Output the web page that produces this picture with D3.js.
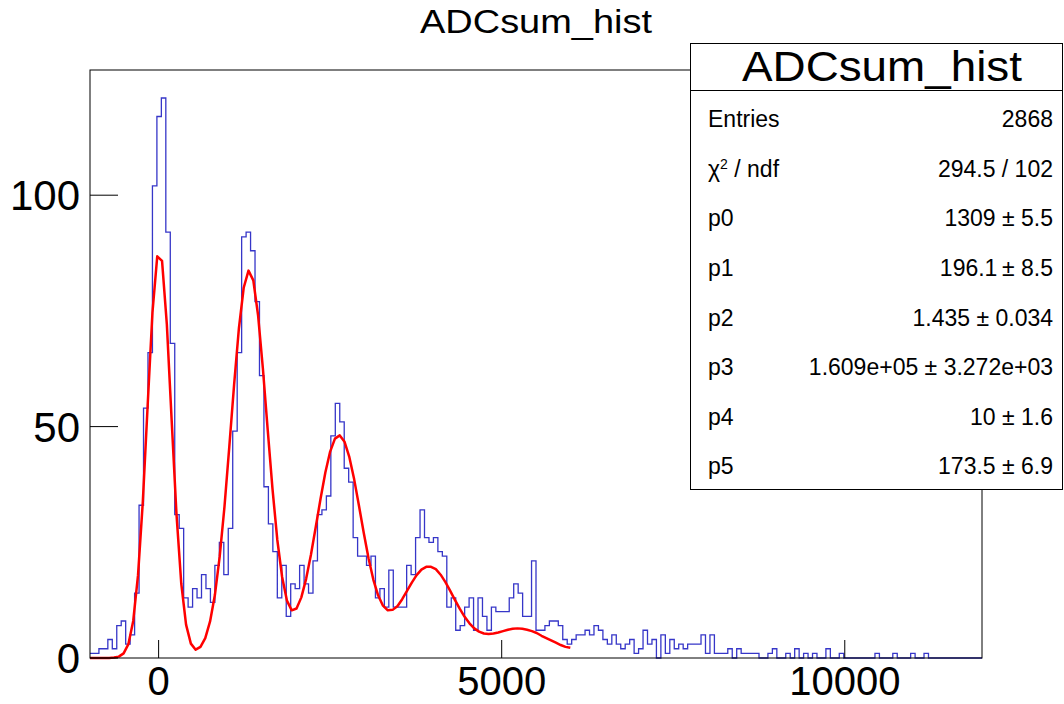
<!DOCTYPE html>
<html><head><meta charset="utf-8">
<script src="https://cdn.jsdelivr.net/npm/d3@7"></script>
<style>body{margin:0;background:#fff;} svg{display:block;font-family:"Liberation Sans",Arial,Helvetica,sans-serif;}</style>
</head><body><svg id="c" width="1064" height="704"></svg>
<script>
// histogram: 200 bins from -1000 to 12000
const binLow = -1000, binWidth = 65;
const counts = [
 1,1,2,2,4,2,7,8,3,5, 14,33,54,66,102,117,121,92,68,31,
 28,13,11,15,13,18,15,12,20,25, 18,28,49,66,91,92,88,77,61,37,
 29,23,13,20,9,16,15,20,16,14, 21,31,32,35,48,55,51,41,38,26,
 22,22,20,22,13,15,11,19,11,11, 11,20,18,26,32,26,25,26,23,22,
 11,13,6,7,11,13,6,13,9,6, 11,10,10,10,13,16,14,9,9,21,
 6,6,7,8,8,7,4,3,4,5, 5,6,5,7,6,4,3,5,3,2,
 3,4,1,2,6,3,4,0,5,1, 4,2,3,2,3,3,3,5,1,5,
 1,1,1,2,0,2,1,1,1,1, 0,0,1,2,0,0,1,0,2,0,
 1,0,1,0,0,2,0,0,1,0, 0,0,0,0,0,0,1,0,0,0,
 1,0,0,0,1,0,0,1,0,0, 0,0,0,0,0,0,0,0,0,0];
// fitted curve samples, every 70 from -1000 to 6000
const fitStart = -1000, fitStep = 70;
const fitValues = [
 0.0,0.0,0.0,0.0,0.0,0.1,0.3,1.0,3.0,8.0,17.9,33.8,54.5,
 74.6,86.8,85.8,72.1,51.4,31.2,16.1,7.2,3.1,1.8,2.4,4.3,7.9,
 13.6,21.9,32.7,45.6,59.0,71.2,80.0,83.7,81.6,74.0,62.5,49.3,36.5,
 25.5,17.5,12.4,10.3,10.7,13.1,17.1,22.3,28.3,34.4,40.1,44.6,47.4,
 48.1,46.7,43.4,38.6,32.9,27.0,21.5,16.9,13.5,11.3,10.3,10.4,11.2,
 12.7,14.5,16.3,17.9,19.1,19.7,19.7,19.2,18.0,16.4,14.5,12.5,10.6,
 8.9,7.5,6.4,5.7,5.3,5.2,5.3,5.5,5.8,6.1,6.3,6.4,6.3,
 6.1,5.8,5.4,4.8,4.3,3.8,3.3,2.8,2.4,2.2];
const xTicks = [0, 5000, 10000];
const yTicks = [0, 50, 100];
const title = "ADCsum_hist";
const statLabels = ["Entries", "chi", "p0", "p1", "p2", "p3", "p4", "p5"];
const statValues = ["2868", "294.5 / 102", "1309 \u00b1 5.5", "196.1\u2009\u00b1 8.5", "1.435 \u00b1 0.034", "1.609e+05 \u00b1 3.272e+03", "10 \u00b1 1.6", "173.5 \u00b1 6.9"];

const svg = d3.select("#c");
const L = 90, R = 982, T = 70, B = 658;
const x = d3.scaleLinear().domain([-1000, 12000]).range([L, R]);
const y = d3.scaleLinear().domain([0, 127.05]).range([B, T]);

// histogram outline
const pts = counts.map((c, i) => [binLow + i * binWidth, c]);
pts.push([binLow + counts.length * binWidth, counts[counts.length - 1]]);
svg.append("path").attr("d", d3.line().x(d => x(d[0])).y(d => y(d[1])).curve(d3.curveStepAfter)(pts))
  .attr("fill", "none").attr("stroke", "#3636c8").attr("stroke-width", 1.3);

// fit curve
svg.append("path").attr("d", d3.line().x((d, i) => x(fitStart + fitStep * i)).y(d => y(d))(fitValues))
  .attr("fill", "none").attr("stroke", "#ff0000").attr("stroke-width", 2.5).attr("stroke-linejoin", "round");

// frame
svg.append("rect").attr("x", L).attr("y", T).attr("width", R - L).attr("height", B - T)
  .attr("fill", "none").attr("stroke", "#000").attr("stroke-width", 1);
// axes ticks and labels
yTicks.forEach(t => {
  svg.append("line").attr("x1", L).attr("x2", L + 28).attr("y1", y(t)).attr("y2", y(t)).attr("stroke", "#000");
  svg.append("text").attr("x", 80).attr("y", y(t)).attr("dy", "0.36em").attr("text-anchor", "end").attr("font-size", 42).text(t);
});
xTicks.forEach(t => {
  svg.append("line").attr("x1", x(t)).attr("x2", x(t)).attr("y1", B).attr("y2", B - 18).attr("stroke", "#000");
  svg.append("text").attr("x", x(t)).attr("y", 681).attr("dy", "0.36em").attr("text-anchor", "middle").attr("font-size", 40).text(t);
});
// title
svg.append("text").attr("x", 536).attr("y", 21).attr("dy", "0.36em").attr("text-anchor", "middle")
  .attr("font-size", 33).attr("textLength", 232).attr("lengthAdjust", "spacingAndGlyphs").text(title);

// stats box
svg.append("rect").attr("x", 690.5).attr("y", 43.5).attr("width", 372).attr("height", 446).attr("fill", "#fff").attr("stroke", "#000");
svg.append("line").attr("x1", 690).attr("x2", 1063).attr("y1", 90.5).attr("y2", 90.5).attr("stroke", "#000");
svg.append("text").attr("x", 882).attr("y", 66).attr("dy", "0.36em").attr("text-anchor", "middle")
  .attr("font-size", 42).attr("textLength", 280).attr("lengthAdjust", "spacingAndGlyphs").text(title);
statLabels.forEach((lab, i) => {
  const yy = 119 + 49.6 * i;
  const t = svg.append("text").attr("x", 708).attr("y", yy).attr("dy", "0.36em").attr("font-size", 23);
  if (lab === "chi") {
    t.append("tspan").text("\u03c7");
    t.append("tspan").attr("font-size", 14).attr("dy", "-0.55em").text("2");
    t.append("tspan").attr("dy", "0.35em").text(" / ndf");
  } else t.text(lab);
  svg.append("text").attr("x", 1053).attr("y", yy).attr("dy", "0.36em").attr("text-anchor", "end").attr("font-size", 23).text(statValues[i]);
});
</script></body></html>
